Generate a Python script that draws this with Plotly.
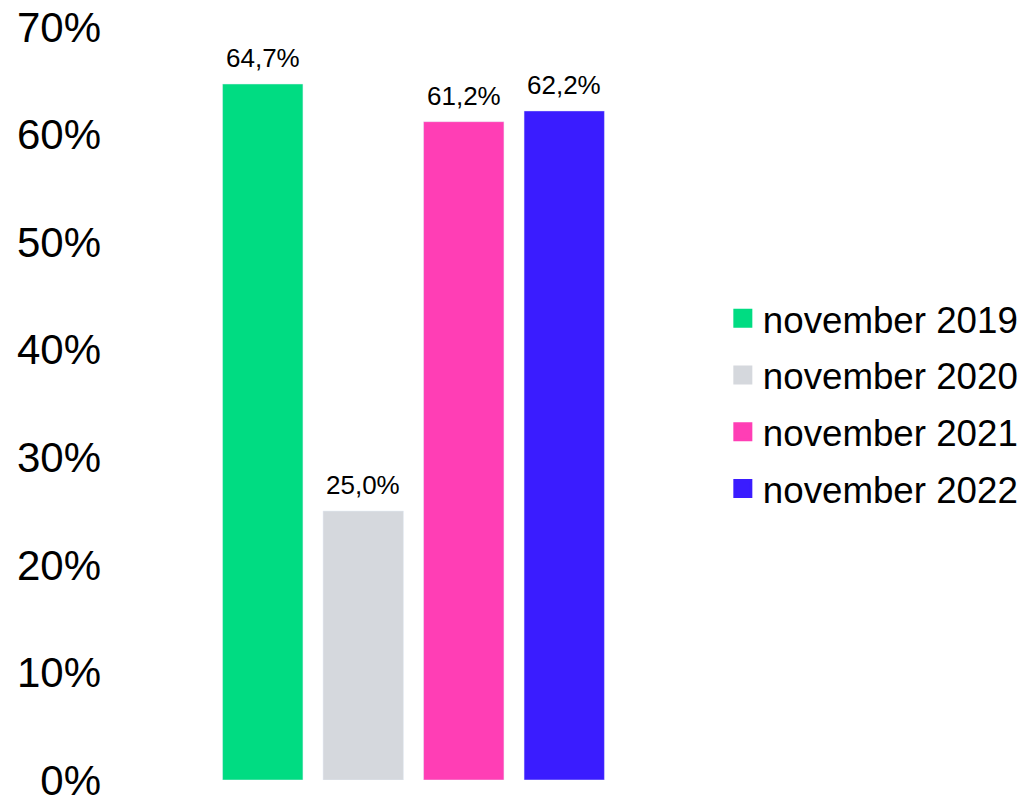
import plotly.graph_objects as go

series_names = ["november 2019", "november 2020", "november 2021", "november 2022"]
values = [64.7, 25.0, 61.2, 62.2]
colors = ["#00DC82", "#D5D8DD", "#FF3EB5", "#3A1CFF"]
tick_vals = [0, 10, 20, 30, 40, 50, 60, 70]
tick_text = [f"{v}%" for v in tick_vals]

FONT = "Arial, Liberation Sans, sans-serif"

fig = go.Figure()
for name, v, c in zip(series_names, values, colors):
    fig.add_trace(go.Bar(
        x=[name], y=[v], name=name, marker_color=c, width=0.8,
        cliponaxis=False, showlegend=False,
    ))
    fig.add_annotation(
        x=name, y=v, xref="x", yref="y",
        text=f"{v:.1f}".replace(".", ",") + "%",
        showarrow=False, yanchor="bottom", yshift=9,
        font=dict(size=26, color="black", family=FONT),
    )
for i, (name, c) in enumerate(zip(series_names, colors)):
    fig.add_trace(go.Scatter(
        x=[None], y=[None], mode="markers", name=name,
        marker=dict(symbol="square", size=16, color=c,
                    line=dict(color=c, width=3)),
        legendgroup=str(i),
    ))

fig.update_layout(
    width=1026, height=798,
    autosize=False,
    margin=dict(l=104, r=319, t=19, b=26, autoexpand=False),
    paper_bgcolor="white", plot_bgcolor="white",
    barmode="overlay",
    font=dict(family=FONT, color="black"),
    showlegend=True,
    legend=dict(x=1.013, xanchor="left", y=0.5, yanchor="middle",
                font=dict(size=36.7, color="black", family=FONT),
                traceorder="grouped", tracegroupgap=6,
                bgcolor="rgba(0,0,0,0)"),
    xaxis=dict(type="category", range=[-1.5, 4.5], showticklabels=False,
               showgrid=False, zeroline=False, showline=False),
    yaxis=dict(range=[0, 70], tickmode="array", tickvals=tick_vals, ticktext=tick_text,
               showgrid=False, zeroline=False, showline=False, automargin=False,
               ticklabeloverflow="allow", ticklabelstandoff=10,
               tickfont=dict(size=42, color="black", family=FONT)),
)

fig.write_html("out.html")
